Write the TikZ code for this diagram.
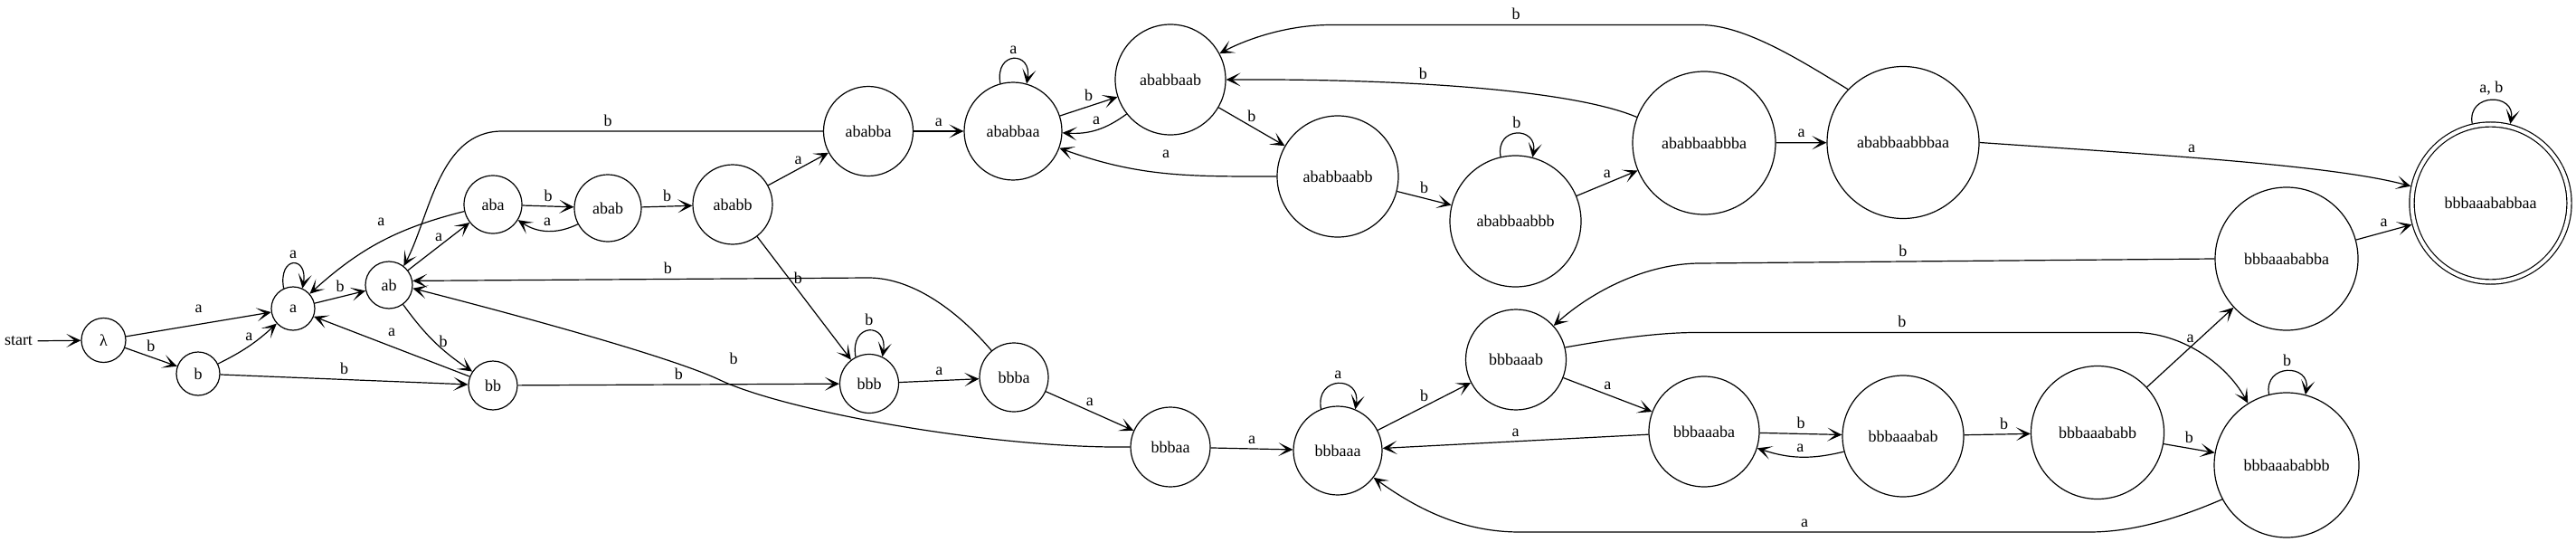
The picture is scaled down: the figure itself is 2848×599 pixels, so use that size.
\documentclass[tikz,border=0pt]{standalone}
\usepackage{fontspec}
\setmainfont{Liberation Serif}
\usetikzlibrary{arrows.meta}
\begin{document}
\begin{tikzpicture}[x=0.5pt,y=0.5pt,line width=0.6pt,
  every node/.style={font=\fontsize{9pt}{11pt}\selectfont},
  stt/.style={circle,draw,inner sep=0pt,minimum size=#1},
  acc/.style={circle,draw,double,double distance=2pt,inner sep=0pt,minimum size=87pt,outer sep=1.6pt},
  arr/.style={-{Stealth[length=8pt,width=7.5pt,inset=4.5pt]}},
  lab/.style={inner sep=2.5pt},
]
\useasboundingbox (0,0) rectangle (2848,-599);
% nodes
\node[inner sep=2.5pt] (st) at (20.5,-377) {start};
\node[stt=24.5pt] (l) at (114.5,-376) {λ};
\node[stt=24pt] (b) at (219,-413) {b};
\node[stt=24pt] (a) at (324,-341) {a};
\node[stt=26pt] (ab) at (430,-315) {ab};
\node[stt=32pt] (aba) at (545,-226) {aba};
\node[stt=37pt] (abab) at (672,-230) {abab};
\node[stt=44pt] (ababb) at (810,-226) {ababb};
\node[stt=49.5pt] (ababba) at (960,-145) {ababba};
\node[stt=54pt] (ababbaa) at (1120,-145) {ababbaa};
\node[stt=61pt] (ababbaab) at (1294,-88) {ababbaab};
\node[stt=67pt] (ababbaabb) at (1479,-195) {ababbaabb};
\node[stt=72.5pt] (ababbaabbb) at (1675.5,-244.5) {ababbaabbb};
\node[stt=79pt] (ababbaabbba) at (1884,-158) {ababbaabbba};
\node[stt=84pt] (ababbaabbbaa) at (2104,-157.5) {ababbaabbbaa};
\node[acc] (fin) at (2753.5,-224.5) {bbbaaababbaa};
\node[stt=27pt] (bb) at (545,-426) {bb};
\node[stt=32.5pt] (bbb) at (961,-424) {bbb};
\node[stt=38pt] (bbba) at (1121,-417) {bbba};
\node[stt=44pt] (bbbaa) at (1294,-494) {bbbaa};
\node[stt=49pt] (bbbaaa) at (1479,-498) {bbbaaa};
\node[stt=55.5pt] (bbbaaab) at (1676,-397.5) {bbbaaab};
\node[stt=61pt] (bbbaaaba) at (1884,-477) {bbbaaaba};
\node[stt=67pt] (bbbaaabab) at (2104,-482) {bbbaaabab};
\node[stt=73.5pt] (bbbaaababb) at (2319,-478) {bbbaaababb};
\node[stt=79pt] (bbbaaababba) at (2528,-286) {bbbaaababba};
\node[stt=80pt] (bbbaaababbb) at (2528,-514) {bbbaaababbb};
% edges, left part
\draw[arr] (st) -- (l);
\draw[arr] (l) -- node[lab,above=3.5pt]{a} (a);
\draw[arr] (l) -- node[lab,above]{b} (b);
\draw[arr] (b) to[bend right=8] node[lab,above]{a} (a);
\draw[arr] (b) -- node[lab,above]{b} (bb);
\draw[arr] (a.115) .. controls +(100:37) and +(80:37) .. (a.65) node[lab,midway,above]{a};
\draw[arr] (a) -- node[lab,above]{b} (ab);
\draw[arr] (bb) -- node[lab,above=3pt]{a} (a);
\draw[arr] (ab) -- node[lab,above]{a} (aba);
\draw[arr] (aba) to[bend right=14] node[lab,above=6pt]{a} (a);
\draw[arr] (ab) to[bend right=10] node[lab,right]{b} (bb);
\draw[arr] (ababba.west) -- node[lab,above,pos=.67]{b} (555,-145) .. controls (485,-145) and (475,-240) .. (ab.52);
\draw[arr] (aba) -- node[lab,above]{b} (abab);
\draw[arr] (abab) to[bend left=30] node[lab,above]{a} (aba);
\draw[arr] (abab) -- node[lab,above]{b} (ababb);
\draw[arr] (ababb) -- node[lab,above]{a} (ababba);
\draw[arr] (ababb) -- node[lab,right,pos=.34]{b} (bbb);
\draw[arr] (ababba) -- node[lab,above]{a} (ababbaa);
% upper chain
\draw[arr] (ababbaa.105) .. controls +(100:37) and +(80:37) .. (ababbaa.74) node[lab,midway,above]{a};
\draw[arr] (ababbaa) -- node[lab,above]{b} (ababbaab);
\draw[arr] (ababbaab) to[bend left=20] node[lab,above]{a} (ababbaa);
\draw[arr] (ababbaab) -- node[lab,above]{b} (ababbaabb);
\draw[arr] (ababbaabb) to[out=180,in=-20] node[lab,above=5.5pt]{a} (ababbaa);
\draw[arr] (ababbaabb) -- node[lab,above]{b} (ababbaabbb);
\draw[arr] (ababbaabbb.103) .. controls +(100:35) and +(80:35) .. (ababbaabbb.75) node[lab,midway,above]{b};
\draw[arr] (ababbaabbb) -- node[lab,above]{a} (ababbaabbba);
\draw[arr] (ababbaabbba) -- node[lab,above]{a} (ababbaabbbaa);
\draw[arr] (ababbaabbba.159) .. controls (1740,-100) and (1560,-87) .. (ababbaab.east) node[lab,pos=.62,above]{b};
\draw[arr] (ababbaabbbaa.136) .. controls (1994,-69) and (1930,-27.5) .. (1880,-27.5) -- node[lab,above]{b} (1472,-27.5) .. controls (1420,-27.5) and (1375,-45) .. (ababbaab.28);
\draw[arr] (ababbaabbbaa.east) .. controls (2400,-172) and (2580,-183) .. (fin.168) node[lab,pos=.4,above]{a};
\draw[arr] (bbbaaababba) -- node[lab,above]{a} (fin);
\draw[arr] (fin.103.5) .. controls +(100:35) and +(80:35) .. (fin.76.5) node[lab,midway,above]{a, b};
% lower chain
\draw[arr] (bb) -- node[lab,above]{b} (bbb);
\draw[arr] (bbb.117.5) .. controls +(100:39) and +(80:39) .. (bbb.64.5) node[lab,midway,above]{b};
\draw[arr] (bbb) -- node[lab,above]{a} (bbba);
\draw[arr] (bbba.130) .. controls (1060,-345) and (1010,-307) .. (960,-307) -- node[lab,above,pos=.44]{b} (ab.10);
\draw[arr] (bbba) -- node[lab,above]{a} (bbbaa);
\draw[arr] (bbbaa.west) .. controls (1100,-496) and (870,-455) .. (796,-420) node[lab,xshift=7.5pt,yshift=11.75pt]{b} .. controls (737,-392) and (540,-340) .. (ab.-8);
\draw[arr] (bbbaa) -- node[lab,above]{a} (bbbaaa);
\draw[arr] (bbbaaa.112) .. controls +(100:38) and +(80:38) .. (bbbaaa.67) node[lab,midway,above]{a};
\draw[arr] (bbbaaa) -- node[lab,above]{b} (bbbaaab);
\draw[arr] (bbbaaab) -- node[lab,above]{a} (bbbaaaba);
\draw[arr] (bbbaaab.14) .. controls (1775,-376) and (1830,-367.5) .. (1875,-367.5) -- node[lab,above,pos=.47]{b} (2360,-367.5) .. controls (2410,-367.5) and (2460,-400) .. (bbbaaababbb.122);
\draw[arr] (bbbaaaba) -- node[lab,above]{a} (bbbaaa);
\draw[arr] (bbbaaaba) -- node[lab,above]{b} (bbbaaabab);
\draw[arr] (bbbaaabab) to[bend left=16] node[lab,above]{a} (bbbaaaba);
\draw[arr] (bbbaaabab) -- node[lab,above,pos=.6]{b} (bbbaaababb);
\draw[arr] (bbbaaababb) -- node[lab,above]{a} (bbbaaababba);
\draw[arr] (bbbaaababb) -- node[lab,above]{b} (bbbaaababbb);
\draw[arr] (bbbaaababbb.104) .. controls +(100:35) and +(80:35) .. (bbbaaababbb.75) node[lab,midway,above]{b};
\draw[arr] (bbbaaababba.west) -- node[lab,above,pos=.606]{b} (1880,-291) .. controls (1820,-291) and (1760,-322) .. (bbbaaab.42);
\draw[arr] (bbbaaababbb.208) .. controls (2410,-572) and (2360,-588) .. (2310,-588) -- node[lab,above]{a} (1680,-588) .. controls (1620,-588) and (1570,-565) .. (bbbaaa.-37);
\end{tikzpicture}
\end{document}
